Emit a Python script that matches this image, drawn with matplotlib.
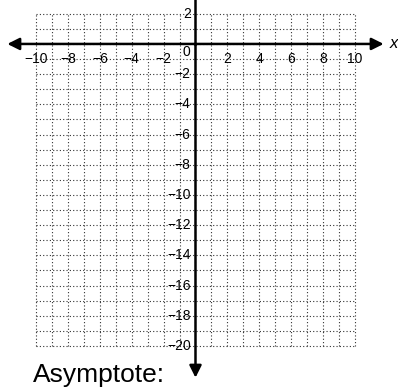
import matplotlib.pyplot as plt

plt.rcParams['font.family'] = ['Liberation Sans', 'DejaVu Sans']

# Grid range and tick labels
x_ticks = [-10, -8, -6, -4, -2, 2, 4, 6, 8, 10]
y_ticks = [2, -2, -4, -6, -8, -10, -12, -14, -16, -18, -20]
x_grid = list(range(-10, 11))
y_grid = list(range(-20, 3))

fig = plt.figure(figsize=(3.98, 3.89), dpi=100)
ax = fig.add_axes([0, 0, 1, 1])
ax.set_xlim(-12.26, 12.7)
ax.set_ylim(-22.85, 2.91)
ax.axis('off')

# dotted grid
dot = (0, (1, 2))
ax.vlines(x_grid, -20, 2, colors='#333333', linestyles=[dot], linewidth=0.8)
ax.hlines(y_grid, -10, 10, colors='#333333', linestyles=[dot], linewidth=0.8)

# axes with arrows
arrow = dict(arrowstyle='-|>', color='black', lw=1.8, mutation_scale=18, shrinkA=0, shrinkB=0)
ax.annotate('', xy=(-11.8, 0), xytext=(0, 0), arrowprops=arrow)
ax.annotate('', xy=(11.8, 0), xytext=(0, 0), arrowprops=arrow)
ax.annotate('', xy=(0, -22.1), xytext=(0, 0), arrowprops=arrow)
ax.plot([0, 0], [0, 3], color='black', lw=1.8)

# tick labels
for v in x_ticks:
    ax.text(v, -1.0, str(v).replace('-', '\u2212'), ha='center', va='center', fontsize=10)
for v in y_ticks:
    ax.text(-0.3, v, str(v).replace('-', '\u2212'), ha='right', va='center', fontsize=10)
ax.text(-0.55, -0.55, '0', ha='center', va='center', fontsize=10)
ax.text(12.15, 0, 'x', ha='left', va='center', fontsize=12, style='italic')

ax.text(-10.2, -22.4, 'Asymptote:', ha='left', va='baseline', fontsize=19)

fig.savefig('out.png', dpi=100)
